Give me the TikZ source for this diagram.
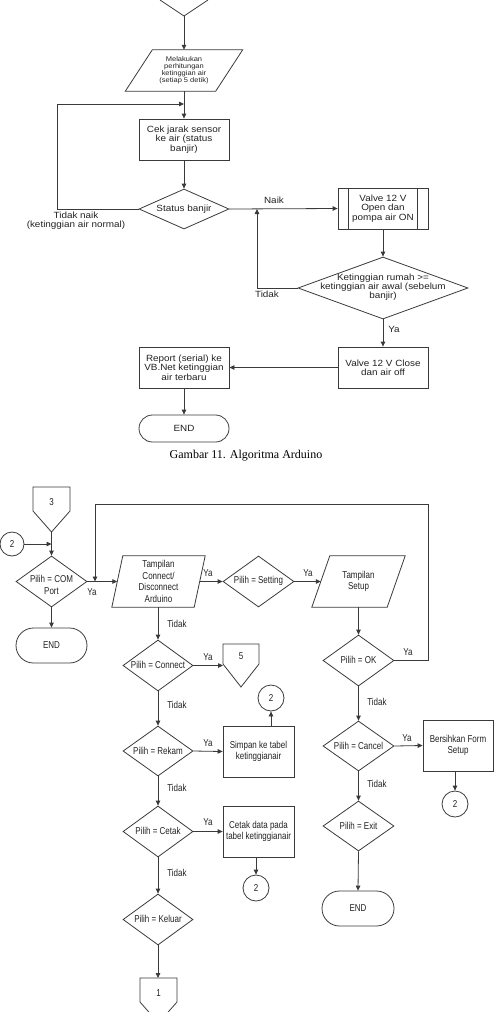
\documentclass[tikz,border=0pt]{standalone}
\usepackage{fontspec}
\setmainfont{Liberation Sans}
\newfontfamily\topf{Liberation Sans}[FakeStretch=1.1]
\newfontfamily\botf{Liberation Sans}[FakeStretch=0.8]
\newfontfamily\capf{Liberation Serif}
\usetikzlibrary{shapes.geometric,arrows.meta}
\definecolor{lc}{HTML}{3A3A3A}
\definecolor{tc}{HTML}{222222}
\newcommand\parashape[2]{\draw[line] ([xshift=#2]#1.north west) -- ([xshift=#2]#1.north east) -- ([xshift=-#2]#1.south east) -- ([xshift=-#2]#1.south west) -- cycle;}
\begin{document}
\begin{tikzpicture}[x=1pt,y=-1pt,
 line/.style={draw=lc, line width=0.8pt},
 arr/.style={line, -{Triangle[length=5pt,width=4.5pt]}},
 ttxt/.style={font=\topf\fontsize{9}{9.3}\selectfont, text=tc, align=center, inner sep=0pt},
 tinytxt/.style={font=\topf\fontsize{6.8}{7}\selectfont, text=tc, align=center, inner sep=0pt},
 btxt/.style={font=\botf\fontsize{10}{11.5}\selectfont, text=tc, align=center, inner sep=0pt},
 box/.style={line, rectangle, inner sep=0pt},
 dia/.style={line, diamond, inner sep=0pt},
 term/.style={line, rectangle, inner sep=0pt},
 circ/.style={line, circle, inner sep=0pt, minimum size=26pt}
]
\useasboundingbox (0,0) rectangle (494,1012);
\clip (0,0) rectangle (494,1012);

% ---------------- top diagram ----------------
\draw[line] (160,0) -- (184,16) coordinate (t0) -- (208,0);

\node[tinytxt, minimum width=90pt, minimum height=41pt] (p1) at (184,70.5)
  {Melakukan\\perhitungan\\ketinggian air\\(setiap 5 detik)};
\parashape{p1}{13.5pt}

\node[box, ttxt, minimum width=90pt, minimum height=41pt] (b1) at (184,139.5)
  {Cek jarak sensor\\ke air (status\\banjir)};

\node[dia, minimum width=90pt, minimum height=40pt] (d1) at (184,209) {};
\node[ttxt] (d1t) at (184,209) {Status banjir};

\node[box, ttxt, minimum width=90pt, minimum height=41pt] (b2) at (383,208.5)
  {Valve 12 V\\Open dan\\pompa air ON};
\draw[line] ([xshift=11pt]b2.north west) -- ([xshift=11pt]b2.south west);
\draw[line] ([xshift=-11pt]b2.north east) -- ([xshift=-11pt]b2.south east);

\node[dia, minimum width=170pt, minimum height=62pt] (d2) at (383,288) {};
\node[ttxt] (d2t) at (383,287) {Ketinggian rumah >=\\ketinggian air awal (sebelum\\banjir)};

\node[box, ttxt, minimum width=90pt, minimum height=41pt] (b3) at (383,367.5)
  {Valve 12 V Close\\dan air off};
\node[box, ttxt, minimum width=90pt, minimum height=41pt] (b4) at (184,367.5)
  {Report (serial) ke\\VB.Net ketinggian\\air terbaru};
\node[term, ttxt, minimum width=90pt, minimum height=27pt, rounded corners=13.5pt] (e1) at (184,428.5) {END};

\node[font=\capf\fontsize{12}{14}\selectfont, text=black, inner sep=0pt] (cap) at (246,456) {Gambar 11. Algoritma Arduino};

\coordinate (j1) at (184,104);
\coordinate (lp) at (57,104);
\coordinate (j2) at (257,209);

\draw[arr] (t0) -- (p1.north);
\draw[arr] (p1.south) -- (b1.north);
\draw[arr] (d1.west) -| (lp) -- (j1);
\draw[arr] (b1.south) -- (d1.north);
\draw[arr] (d1.east) -- (b2.west);
\draw[arr] (b2.south) -- (d2.north);
\draw[arr] (d2.west) -| (j2);
\draw[arr] (d2.south) -- (b3.north);
\draw[arr] (b3.west) -- (b4.east);
\draw[arr] (b4.south) -- (e1.north);

\node[ttxt] (l1) at (76,220.5) {Tidak naik\\(ketinggian air normal)};
\node[ttxt] (l2) at (274,200) {Naik};
\node[ttxt] (l3) at (267,294.5) {Tidak};
\node[ttxt] (l4) at (394,329) {Ya};

% ---------------- bottom diagram ----------------
\draw[line] (33,487) -- (70,487) -- (70,511) -- (51.5,532) coordinate (c3tip) -- (33,511) -- cycle;
\node[btxt] (c3) at (51.5,502) {3};

\node[circ, btxt, minimum size=24pt] (o1) at (12,544) {2};
\coordinate (j3) at (51.5,544);
\draw[arr] (o1.east) -- (j3);

\node[dia, minimum width=71pt, minimum height=51pt] (d3) at (51.5,581.5) {};
\node[btxt] (d3t) at (51.5,585) {Pilih = COM\\Port};
\draw[arr] (c3tip) -- (d3.north);

\node[term, btxt, minimum width=71pt, minimum height=35pt, rounded corners=17.5pt] (e2) at (51.5,645.5) {END};
\draw[arr] (d3.south) -- (e2.north);

\node[btxt, minimum width=82pt, minimum height=51pt] (p2) at (158.5,581.5) {Tampilan\\Connect/\\Disconnect\\Arduino};
\parashape{p2}{5.5pt}
\draw[arr] (d3.east) -- (p2.west);

\node[dia, minimum width=71pt, minimum height=51pt] (d4) at (258.5,581.5) {};
\node[btxt] (d4t) at (258.5,581) {Pilih = Setting};
\draw[arr] (p2.east) -- (d4.west);

\node[btxt, minimum width=75pt, minimum height=51pt] (p3) at (358.5,581.5) {Tampilan\\Setup};
\parashape{p3}{9pt}
\draw[arr] (d4.east) -- (p3.west);

\node[dia, minimum width=71pt, minimum height=51pt] (d5) at (358.5,660.5) {};
\node[btxt] (d5t) at (358.5,660) {Pilih = OK};
\draw[arr] (p3.south) -- (d5.north);

\coordinate (j4) at (95,581.5);
\coordinate (lt) at (428,504);
\draw[arr] (d5.east) -| (lt) -| (j4);

\node[dia, minimum width=70pt, minimum height=51pt] (d6) at (158,665.5) {};
\node[btxt] (d6t) at (158,665) {Pilih = Connect};
\draw[arr] (p2.south -| d6) -- (d6.north);

\draw[line] (223,644) -- (259,644) -- (259,664) -- (241,687) -- (223,664) -- cycle;
\node[btxt] (c5) at (241,656) {5};
\coordinate (c5in) at (223,665.5);
\draw[arr] (d6.east) -- (c5in);

\node[circ, btxt] (o2) at (271,698) {2};

\node[dia, minimum width=70pt, minimum height=50pt] (d7) at (158,751) {};
\node[btxt] (d7t) at (158,750.5) {Pilih = Rekam};
\draw[arr] (d6.south) -- (d7.north);

\node[box, btxt, minimum width=71pt, minimum height=51pt] (b5) at (258.5,751.5) {Simpan ke tabel\\ketinggianair};
\draw[arr] (d7.east) -- (b5.west);
\draw[arr] (o2 |- b5.north) -- (o2.south);

\node[dia, minimum width=70pt, minimum height=51pt] (d8) at (158,831.5) {};
\node[btxt] (d8t) at (158,831) {Pilih = Cetak};
\draw[arr] (d7.south) -- (d8.north);

\node[box, btxt, minimum width=71pt, minimum height=51pt] (b6) at (258.5,831.5) {Cetak data pada\\tabel ketinggianair};
\draw[arr] (d8.east) -- (b6.west);

\node[circ, btxt] (o3) at (256,888) {2};
\draw[arr] (o3 |- b6.south) -- (o3.north);

\node[dia, minimum width=70pt, minimum height=51pt] (d9) at (158,919.5) {};
\node[btxt] (d9t) at (158,919) {Pilih = Keluar};
\draw[arr] (d8.south) -- (d9.north);

\draw[line] (140,978) -- (177,978) -- (177,1002) -- (158.5,1023) -- (140,1002) -- cycle;
\node[btxt] (c1) at (158.5,993) {1};
\coordinate (c1top) at (158,978);
\draw[arr] (d9.south) -- (c1top);

\node[dia, minimum width=71pt, minimum height=50pt] (d10) at (358.5,746) {};
\node[btxt] (d10t) at (358.5,745.5) {Pilih = Cancel};
\draw[arr] (d5.south) -- (d10.north);

\node[box, btxt, minimum width=70pt, minimum height=51pt] (b7) at (458,745.5) {Bersihkan Form\\Setup};
\draw[arr] (d10.east) -- (b7.west);

\node[circ, btxt] (o4) at (455,804) {2};
\draw[arr] (o4 |- b7.south) -- (o4.north);

\node[dia, minimum width=71pt, minimum height=50pt] (d11) at (358.5,826) {};
\node[btxt] (d11t) at (358.5,825.5) {Pilih = Exit};
\draw[arr] (d10.south) -- (d11.north);

\node[term, btxt, minimum width=72pt, minimum height=35pt, rounded corners=17.5pt] (e3) at (358,908.5) {END};
\draw[arr] (d11.south) -- (e3.north);

% labels
\node[btxt] (y1) at (92,592) {Ya};
\node[btxt] (y2) at (208,573) {Ya};
\node[btxt] (y3) at (308,573) {Ya};
\node[btxt] (y4) at (408,652) {Ya};
\node[btxt] (y5) at (208,657) {Ya};
\node[btxt] (y6) at (208,743) {Ya};
\node[btxt] (y7) at (208,822) {Ya};
\node[btxt] (y8) at (407,738) {Ya};
\node[btxt] (n1) at (177,624) {Tidak};
\node[btxt] (n2) at (177,705) {Tidak};
\node[btxt] (n3) at (177,788) {Tidak};
\node[btxt] (n4) at (177,873) {Tidak};
\node[btxt] (n5) at (377,702) {Tidak};
\node[btxt] (n6) at (377,784) {Tidak};
\end{tikzpicture}
\end{document}
